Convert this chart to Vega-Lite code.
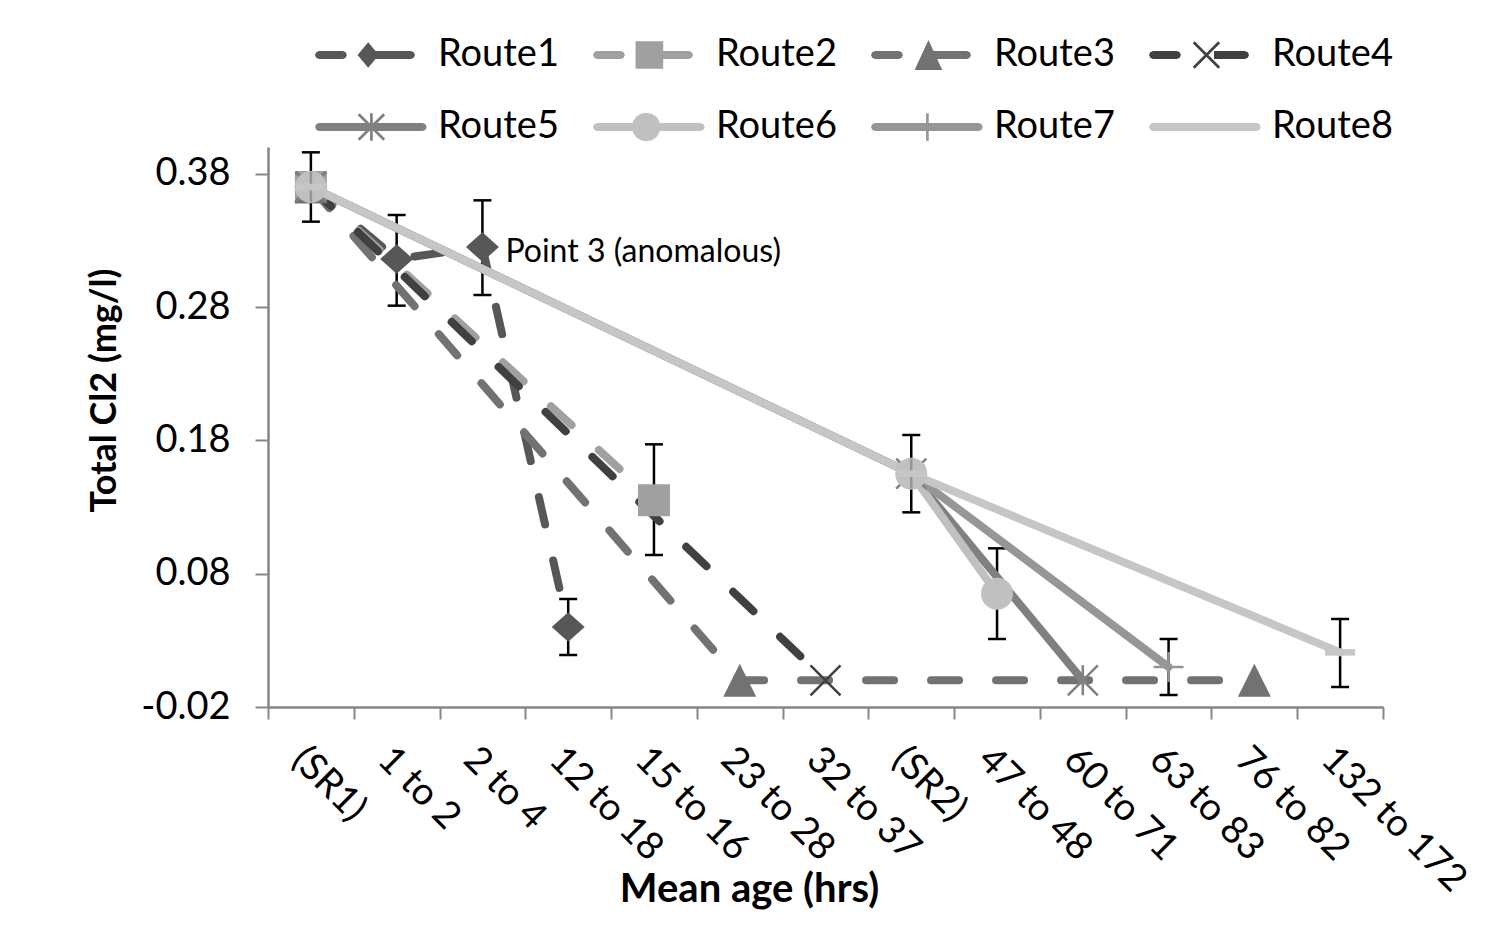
{
  "$schema": "https://vega.github.io/schema/vega-lite/v6.json",
  "width": 1115,
  "height": 560,
  "autosize": {"type": "none"},
  "padding": {"left": 268, "top": 147, "right": 105, "bottom": 218},
  "background": "white",
  "datasets": {
    "pts": [
      {"route": "Route1", "age": "(SR1)", "k": 0, "v": 0.37},
      {"route": "Route1", "age": "1 to 2", "k": 1, "v": 0.316},
      {"route": "Route1", "age": "2 to 4", "k": 2, "v": 0.325},
      {"route": "Route1", "age": "12 to 18", "k": 3, "v": 0.040},
      {"route": "Route2", "age": "(SR1)", "k": 0, "v": 0.37},
      {"route": "Route2", "age": "15 to 16", "k": 4, "v": 0.135},
      {"route": "Route3", "age": "(SR1)", "k": 0, "v": 0.37},
      {"route": "Route3", "age": "23 to 28", "k": 5, "v": 0.0},
      {"route": "Route3", "age": "76 to 82", "k": 11, "v": 0.0},
      {"route": "Route4", "age": "(SR1)", "k": 0, "v": 0.37},
      {"route": "Route4", "age": "32 to 37", "k": 6, "v": 0.0},
      {"route": "Route5", "age": "(SR1)", "k": 0, "v": 0.37},
      {"route": "Route5", "age": "(SR2)", "k": 7, "v": 0.155},
      {"route": "Route5", "age": "60 to 71", "k": 9, "v": 0.0},
      {"route": "Route6", "age": "(SR1)", "k": 0, "v": 0.37},
      {"route": "Route6", "age": "(SR2)", "k": 7, "v": 0.155},
      {"route": "Route6", "age": "47 to 48", "k": 8, "v": 0.065},
      {"route": "Route7", "age": "(SR1)", "k": 0, "v": 0.37},
      {"route": "Route7", "age": "(SR2)", "k": 7, "v": 0.155},
      {"route": "Route7", "age": "63 to 83", "k": 10, "v": 0.010},
      {"route": "Route8", "age": "(SR1)", "k": 0, "v": 0.37},
      {"route": "Route8", "age": "(SR2)", "k": 7, "v": 0.155},
      {"route": "Route8", "age": "132 to 172", "k": 12, "v": 0.021}
    ],
    "err": [
      {"age": "(SR1)", "lo": 0.344, "hi": 0.396},
      {"age": "1 to 2", "lo": 0.281, "hi": 0.349},
      {"age": "2 to 4", "lo": 0.289, "hi": 0.360},
      {"age": "12 to 18", "lo": 0.019, "hi": 0.061},
      {"age": "15 to 16", "lo": 0.094, "hi": 0.177},
      {"age": "(SR2)", "lo": 0.126, "hi": 0.184},
      {"age": "47 to 48", "lo": 0.031, "hi": 0.099},
      {"age": "63 to 83", "lo": -0.011, "hi": 0.031},
      {"age": "132 to 172", "lo": -0.005, "hi": 0.046}
    ],
    "notes": [
      {"age": "2 to 4", "v": 0.325, "note": "Point 3 (anomalous)"}
    ]
  },
  "encoding": {
    "x": {
      "field": "age",
      "type": "nominal",
      "title": "Mean age (hrs)",
      "sort": ["(SR1)", "1 to 2", "2 to 4", "12 to 18", "15 to 16", "23 to 28", "32 to 37", "(SR2)", "47 to 48", "60 to 71", "63 to 83", "76 to 82", "132 to 172"],
      "scale": {
        "type": "band",
        "domain": ["(SR1)", "1 to 2", "2 to 4", "12 to 18", "15 to 16", "23 to 28", "32 to 37", "(SR2)", "47 to 48", "60 to 71", "63 to 83", "76 to 82", "132 to 172"],
        "paddingInner": 0,
        "paddingOuter": 0
      }
    }
  },
  "layer": [
    {
      "data": {"name": "err"},
      "mark": {"type": "rule", "color": "#000000", "strokeWidth": 2.5},
      "encoding": {
        "y": {"field": "lo", "type": "quantitative", "title": "Total Cl2 (mg/l)", "scale": {"domain": [-0.02, 0.4], "nice": false, "zero": false}, "axis": {"values": [-0.02, 0.08, 0.18, 0.28, 0.38], "labelExpr": "datum.value < 0 ? '-' + format(-datum.value, '.2f') : format(datum.value, '.2f')"}},
        "y2": {"field": "hi"}
      }
    },
    {
      "data": {"name": "err"},
      "mark": {"type": "tick", "color": "#000000", "size": 18, "thickness": 2.5, "opacity": 1},
      "encoding": {
        "y": {"field": "lo", "type": "quantitative", "title": "Total Cl2 (mg/l)", "scale": {"domain": [-0.02, 0.4], "nice": false, "zero": false}}
      }
    },
    {
      "data": {"name": "err"},
      "mark": {"type": "tick", "color": "#000000", "size": 18, "thickness": 2.5, "opacity": 1},
      "encoding": {
        "y": {"field": "hi", "type": "quantitative", "title": "Total Cl2 (mg/l)", "scale": {"domain": [-0.02, 0.4], "nice": false, "zero": false}}
      }
    },
    {
      "data": {"name": "pts"},
      "encoding": {
        "y": {"field": "v", "type": "quantitative", "title": "Total Cl2 (mg/l)", "scale": {"domain": [-0.02, 0.4], "nice": false, "zero": false}},
        "order": {"field": "k", "type": "quantitative"}
      },
      "layer": [
        {
          "transform": [{"filter": "datum.k === 0"}],
          "mark": {"type": "point", "filled": true, "size": 10000, "opacity": 0, "strokeWidth": 0},
          "encoding": {
            "color": {
              "field": "route",
              "type": "nominal",
              "title": null,
              "scale": {
                "domain": ["Route1", "Route2", "Route3", "Route4", "Route5", "Route6", "Route7", "Route8"],
                "range": ["#575757", "#a0a0a0", "#727272", "#404040", "#808080", "#c0c0c0", "#969696", "#c6c6c6"]
              }
            },
            "shape": {
              "field": "route",
              "type": "nominal",
              "title": null,
              "scale": {
                "domain": ["Route1", "Route2", "Route3", "Route4", "Route5", "Route6", "Route7", "Route8"],
                "range": [
                  "M-0.92,-0.08L-0.442,-0.08L-0.386,-0.056L-0.362,0L-0.386,0.056L-0.442,0.08L-0.92,0.08L-0.976,0.056L-1,0L-0.976,-0.056ZM0.064,-0.255L0.277,0L0.064,0.255L-0.149,0ZM0.2,-0.08L0.92,-0.08L0.976,-0.056L1,0L0.976,0.056L0.92,0.08L0.2,0.08Z",
                  "M-0.92,-0.08L-0.442,-0.08L-0.386,-0.056L-0.362,0L-0.386,0.056L-0.442,0.08L-0.92,0.08L-0.976,0.056L-1,0L-0.976,-0.056ZM-0.149,-0.277L0.404,-0.277L0.404,0.277L-0.149,0.277ZM0.35,-0.08L0.92,-0.08L0.976,-0.056L1,0L0.976,0.056L0.92,0.08L0.35,0.08Z",
                  "M-0.92,-0.08L-0.442,-0.08L-0.386,-0.056L-0.362,0L-0.386,0.056L-0.442,0.08L-0.92,0.08L-0.976,0.056L-1,0L-0.976,-0.056ZM0.149,-0.298L0.426,0.298L-0.128,0.298ZM0.2,-0.08L0.92,-0.08L0.976,-0.056L1,0L0.976,0.056L0.92,0.08L0.2,0.08Z",
                  "M-0.92,-0.08L-0.442,-0.08L-0.386,-0.056L-0.362,0L-0.386,0.056L-0.442,0.08L-0.92,0.08L-0.976,0.056L-1,0L-0.976,-0.056ZM-0.087,-0.274L0.423,0.236L0.385,0.274L-0.125,-0.236ZM-0.125,0.236L0.385,-0.274L0.423,-0.236L-0.087,0.274ZM0.3,-0.08L0.92,-0.08L0.976,-0.056L1,0L0.976,0.056L0.92,0.08L0.3,0.08Z",
                  "M-0.92,-0.08L1.154,-0.08L1.21,-0.056L1.234,0L1.21,0.056L1.154,0.08L-0.92,0.08L-0.976,0.056L-1,0L-0.976,-0.056ZM-0.108,-0.274L0.402,0.236L0.364,0.274L-0.146,-0.236ZM-0.146,0.236L0.364,-0.274L0.402,-0.236L-0.108,0.274ZM0.101,-0.277L0.155,-0.277L0.155,0.277L0.101,0.277Z",
                  "M-0.92,-0.08L1.154,-0.08L1.21,-0.056L1.234,0L1.21,0.056L1.154,0.08L-0.92,0.08L-0.976,0.056L-1,0L-0.976,-0.056ZM0.351,0L0.329,0.11L0.267,0.203L0.174,0.265L0.064,0.287L-0.046,0.265L-0.139,0.203L-0.201,0.11L-0.223,0L-0.201,-0.11L-0.139,-0.203L-0.046,-0.265L0.064,-0.287L0.174,-0.265L0.267,-0.203L0.329,-0.11Z",
                  "M-0.92,-0.08L1.154,-0.08L1.21,-0.056L1.234,0L1.21,0.056L1.154,0.08L-0.92,0.08L-0.976,0.056L-1,0L-0.976,-0.056ZM0.101,-0.277L0.155,-0.277L0.155,0.277L0.101,0.277Z",
                  "M-0.92,-0.08L1.154,-0.08L1.21,-0.056L1.234,0L1.21,0.056L1.154,0.08L-0.92,0.08L-0.976,0.056L-1,0L-0.976,-0.056Z"
                ]
              }
            }
          }
        },
        {
          "transform": [{"filter": "indexof(['Route1','Route2','Route3','Route4'], datum.route) >= 0"}],
          "mark": {"type": "line", "strokeWidth": 8, "strokeDash": [28, 37], "strokeCap": "round", "strokeJoin": "round"},
          "encoding": {
            "color": {"field": "route", "type": "nominal", "title": null}
          }
        },
        {
          "transform": [{"filter": "datum.route === 'Route1'"}],
          "mark": {"type": "point", "filled": true, "size": 1089, "opacity": 1, "strokeWidth": 0, "color": "#575757", "shape": "M0,-0.9L1,0L0,0.9L-1,0Z"}
        },
        {
          "transform": [{"filter": "datum.route === 'Route2'"}],
          "mark": {"type": "point", "filled": true, "size": 1089, "opacity": 1, "strokeWidth": 0, "color": "#a0a0a0", "shape": "M-0.97,-0.97L0.97,-0.97L0.97,0.97L-0.97,0.97Z"}
        },
        {
          "transform": [{"filter": "datum.route === 'Route3'"}],
          "mark": {"type": "point", "filled": true, "size": 1089, "opacity": 1, "strokeWidth": 0, "color": "#727272", "shape": "M0,-1L1,1L-1,1Z"}
        },
        {
          "transform": [{"filter": "datum.route === 'Route4'"}],
          "mark": {"type": "point", "filled": true, "size": 1089, "opacity": 1, "strokeWidth": 0, "color": "#404040", "shape": "M-0.856,-0.964L0.964,0.856L0.856,0.964L-0.964,-0.856ZM-0.964,0.856L0.856,-0.964L0.964,-0.856L-0.856,0.964Z"}
        },
        {
          "transform": [{"filter": "indexof(['Route5','Route6','Route7','Route8'], datum.route) >= 0"}],
          "mark": {"type": "line", "strokeWidth": 8, "strokeCap": "round", "strokeJoin": "round"},
          "encoding": {
            "color": {"field": "route", "type": "nominal", "title": null}
          }
        },
        {
          "transform": [{"filter": "datum.route === 'Route5'"}],
          "mark": {"type": "point", "filled": true, "size": 1089, "opacity": 1, "strokeWidth": 0, "color": "#808080", "shape": "M-0.856,-0.964L0.964,0.856L0.856,0.964L-0.964,-0.856ZM-0.964,0.856L0.856,-0.964L0.964,-0.856L-0.856,0.964ZM-0.076,-0.91L0.076,-0.91L0.076,0.91L-0.076,0.91Z"}
        },
        {
          "transform": [{"filter": "datum.route === 'Route6'"}],
          "mark": {"type": "point", "filled": true, "size": 1024, "opacity": 1, "strokeWidth": 0, "color": "#c0c0c0", "shape": "circle"}
        },
        {
          "transform": [{"filter": "datum.route === 'Route7'"}],
          "mark": {"type": "point", "filled": true, "size": 1089, "opacity": 1, "strokeWidth": 0, "color": "#969696", "shape": "M-0.076,-0.91L0.076,-0.91L0.076,0.91L-0.076,0.91ZM-0.91,-0.076L0.91,-0.076L0.91,0.076L-0.91,0.076Z"}
        },
        {
          "transform": [{"filter": "datum.route === 'Route8'"}],
          "mark": {"type": "point", "filled": true, "size": 1089, "opacity": 1, "strokeWidth": 0, "color": "#c6c6c6", "shape": "M-0.91,-0.2L0.91,-0.2L0.91,0.2L-0.91,0.2Z"}
        }
      ]
    },
    {
      "data": {"name": "notes"},
      "mark": {"type": "text", "align": "left", "baseline": "middle", "dx": 23, "dy": 5, "fontSize": 32, "font": "Lato", "color": "#000000"},
      "encoding": {
        "y": {"field": "v", "type": "quantitative", "title": "Total Cl2 (mg/l)", "scale": {"domain": [-0.02, 0.4], "nice": false, "zero": false}},
        "text": {"field": "note"}
      }
    }
  ],
  "config": {
    "view": {"stroke": null},
    "font": "Lato",
    "axis": {
      "labelFont": "Lato",
      "titleFont": "Lato",
      "labelColor": "#000000",
      "titleColor": "#000000",
      "domainColor": "#868686",
      "domainWidth": 2.5,
      "tickColor": "#868686",
      "tickWidth": 2,
      "grid": false,
      "labelFontSize": 38,
      "titleFontSize": 36,
      "titleFontWeight": "bold"
    },
    "axisX": {
      "labelAngle": 45,
      "labelAlign": "left",
      "labelBaseline": "top",
      "tickBand": "extent",
      "tickSize": 12,
      "labelPadding": 21,
      "labelOverlap": false,
      "labelLimit": 400,
      "titleFontSize": 40,
      "titleX": 481,
      "titleY": 194,
      "titleBaseline": "alphabetic",
      "titleAlign": "center"
    },
    "axisY": {
      "tickSize": 13,
      "labelPadding": 25,
      "titleX": -153,
      "titleY": 243,
      "titleAngle": -90,
      "titleBaseline": "alphabetic",
      "titleAlign": "center"
    },
    "legend": {
      "orient": "none",
      "direction": "horizontal",
      "legendX": 47,
      "legendY": -142,
      "columns": 4,
      "gridAlign": "all",
      "columnPadding": 34,
      "rowPadding": 3,
      "padding": 0,
      "symbolSize": 10000,
      "symbolStrokeWidth": 0,
      "symbolStrokeColor": "transparent",
      "labelOffset": 23,
      "labelFont": "Lato",
      "labelFontSize": 38,
      "labelColor": "#000000",
      "symbolOpacity": 1
    }
  }
}
